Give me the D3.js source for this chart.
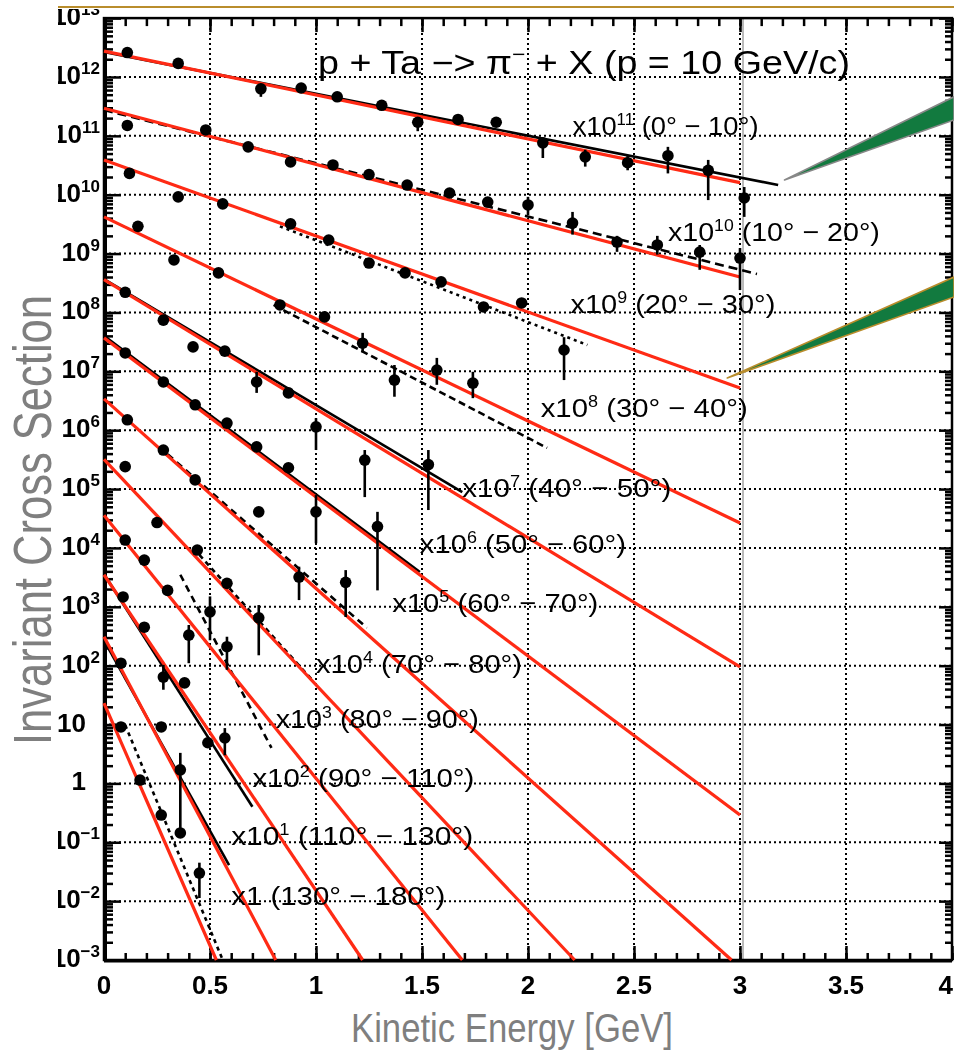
<!DOCTYPE html>
<html>
<head>
<meta charset="utf-8">
<script src="https://cdn.jsdelivr.net/npm/d3@7"></script>
<style>
  html, body { margin: 0; padding: 0; background: #fff; }
  svg { display: block; }
  text { font-family: "Liberation Sans", Arial, Helvetica, sans-serif; }
</style>
</head>
<body>
<svg id="chart" width="954" height="1052"></svg>
<script>
// ---- angular bins, scale factors and label text ----
const angleBins = ["0° − 10°", "10° − 20°", "20° − 30°", "30° − 40°", "40° − 50°", "50° − 60°",
                   "60° − 70°", "70° − 80°", "80° − 90°", "90° − 110°", "110° − 130°", "130° − 180°"];
const scalePowers = [11, 10, 9, 8, 7, 6, 5, 4, 3, 2, 1, 0];

// ---- measured points (scaled): [T (GeV), value, errLow, errHigh] ----
const pts00_10 = [[0.11,2.6e12],[0.35,1.7e12],[0.74,6.3e11,4.6e11,7.6e11],[0.93,6.5e11],[1.10,4.6e11],
  [1.31,3.3e11],[1.48,1.7e11,1.2e11,2.0e11],[1.67,1.9e11],[1.85,1.7e11],[2.07,7.6e10,4.2e10,9.2e10],
  [2.27,4.4e10,3.0e10,5.8e10],[2.47,3.5e10,2.6e10,4.6e10],[2.66,4.6e10,2.3e10,6.5e10],
  [2.85,2.6e10,8.1e9,3.9e10],[3.02,8.8e9,4.2e9,1.35e10]];
const pts10_20 = [[0.11,1.5e11],[0.48,1.26e11],[0.68,6.5e10],[0.88,3.6e10],[1.08,3.2e10],[1.25,2.2e10],
  [1.43,1.46e10],[1.63,1.07e10],[1.81,7.5e9],[2.00,6.7e9,4.5e9,9.2e9],[2.21,3.3e9,2.1e9,5.1e9],
  [2.42,1.57e9,1.07e9,2.0e9],[2.61,1.4e9,9.6e8,2.0e9],[2.81,1.06e9,5.3e8,1.4e9],[3.00,8.4e8,2.4e8,1.24e9]];
const pts20_30 = [[0.12,2.3e10],[0.35,9.2e9],[0.56,7.0e9],[0.88,3.2e9],[1.06,1.7e9],[1.25,6.9e8],
  [1.42,4.7e8],[1.59,3.3e8],[1.79,1.24e8],[1.97,1.45e8],[2.17,2.3e7,7.1e6,3.8e7]];
const pts30_40 = [[0.16,2.9e9],[0.33,7.8e8],[0.54,4.7e8],[0.83,1.34e8],[1.04,8.4e7],[1.22,3.0e7,2.1e7,4.5e7],
  [1.37,7.1e6,3.7e6,1.28e7],[1.57,1.05e7,5.9e6,1.69e7],[1.74,6.3e6,3.5e6,9.8e6]];
const pts40_50 = [[0.10,2.2e8],[0.28,7.4e7],[0.42,2.6e7],[0.57,2.2e7],[0.72,6.6e6,4.3e6,9.8e6],[0.87,4.3e6],
  [1.00,1.14e6,4.6e5,1.6e6],[1.23,3.1e5,7.3e4,4.6e5],[1.53,2.6e5,4.4e4,4.6e5]];
const pts50_60 = [[0.10,2.05e7],[0.28,6.6e6],[0.43,2.7e6],[0.58,1.32e6],[0.72,5.2e5],[0.87,2.3e5],
  [1.00,4.1e4,1.2e4,7.9e4],[1.29,2.3e4,1.9e3,4.1e4]];
const pts60_70 = [[0.11,1.5e6],[0.28,4.6e5],[0.43,1.43e5],[0.73,4.1e4],[0.92,3.2e3,1.3e3,4.8e3],
  [1.14,2.6e3,6.7e2,4.2e3]];
const pts70_80 = [[0.10,2.4e5],[0.25,2.7e4],[0.44,9.2e3],[0.50,8.2e2,2.7e2,1.5e3],[0.58,2.5e3],
  [0.73,6.5e2,1.5e2,1.07e3]];
const pts80_90 = [[0.10,1.36e4],[0.19,6.2e3],[0.30,1.9e3],[0.40,3.3e2,1.1e2,4.9e2],[0.58,2.1e2,85,3.1e2]];
const pts90_110 = [[0.09,1.47e3],[0.19,4.5e2],[0.28,64,39,103],[0.38,51],[0.49,4.9],[0.57,5.9,3.0,8.7]];
const pts110_130 = [[0.08,110],[0.27,9.1],[0.36,1.7,0.16,3.3]];
const pts130_180 = [[0.08,9.1],[0.17,1.14],[0.27,0.29],[0.36,0.144],[0.45,0.030,0.0113,0.045]];
const pointSets = [pts00_10, pts10_20, pts20_30, pts30_40, pts40_50, pts50_60,
                   pts60_70, pts70_80, pts80_90, pts90_110, pts110_130, pts130_180];

// ---- exponential fits (red): value at T = 0 and the end point of each line ----
const fitStart = [2.75e12, 2.95e11, 3.9e10, 4.2e9, 3.6e8, 3.7e7, 3.4e6, 3.2e5, 3.6e4, 3.5e3, 310, 23];
const fitEnd = [[3,1.6e10],[3,4.0e8],[3,5.2e6],[3,2.65e4],[3,95],[3,0.29],
                [2.96,1e-3],[2.22,1e-3],[1.69,1e-3],[1.22,1e-3],[0.81,1e-3],[0.53,1e-3]];

// ---- model curves (black): [T0, v0, T1, v1] and line style ----
const modelLines = [[0,2.66e12,3.18,1.46e10],[0,2.75e11,3.08,4.5e8],[0.83,2.9e9,2.28,2.8e7],
  [0.80,1.34e8,2.09,5.0e5],[0,3.7e8,1.69,8.9e4],[0,4.0e7,1.49,3.9e3],[0.30,3.9e5,1.24,440],
  [0.45,7.6e3,0.99,53],[0.36,3.5e3,0.79,4.0],[0,3.6e3,0.70,0.40],[0,270,0.59,0.041],[0.10,9.8,0.56,1e-3]];
const modelDash = [null, "9,5", "3,4", "7,4", null, null, "7,5", "5,4", "7,5", null, null, "4,4"];

// ---- axis ticks ----
const xTickValues = [0, 0.5, 1, 1.5, 2, 2.5, 3, 3.5, 4];
const xTickLabels = ["0", "0.5", "1", "1.5", "2", "2.5", "3", "3.5", "4"];
const yExponents = d3.range(-3, 14);

// ---- series label anchors (left end, baseline) in data units ----
const labelAnchor = [[2.21,1.04e11],[2.66,1.64e9],[2.20,9.8e7],[2.06,1.68e6],[1.69,7.3e4],[1.49,8.2e3],
  [1.36,820],[1.00,75],[0.81,8.7],[0.70,0.87],[0.60,0.09],[0.60,0.0086]];
const labelWidth = [186, 212, 205, 207, 209, 206, 206, 206, 203, 222, 242, 214];

const svg = d3.select("#chart");
const x = d3.scaleLinear().domain([0, 4]).range([104, 952]);
const y = d3.scaleLog().domain([1e-3, 1e13]).range([960, 18.1]);

const RED = "#ff2a12";

const defs = svg.append("defs");
defs.append("clipPath").attr("id", "pawClip")
  .append("rect").attr("x", 58).attr("y", 9).attr("width", 896).attr("height", 1043);
defs.append("filter").attr("id", "soft")
  .append("feGaussianBlur").attr("stdDeviation", 0.5);

const g = svg.append("g").attr("clip-path", "url(#pawClip)")
  .append("g").attr("filter", "url(#soft)");

// dotted grid
g.append("g").selectAll("line").data(xTickValues.slice(1, -1)).join("line")
  .attr("x1", d => x(d)).attr("x2", d => x(d))
  .attr("y1", y(1e13)).attr("y2", y(1e-3))
  .attr("stroke", "#000").attr("stroke-width", 2).attr("stroke-dasharray", "2,3");
g.append("g").selectAll("line").data(yExponents.slice(1, -1)).join("line")
  .attr("x1", x(0)).attr("x2", x(4))
  .attr("y1", d => y(Math.pow(10, d))).attr("y2", d => y(Math.pow(10, d)))
  .attr("stroke", "#000").attr("stroke-width", 2).attr("stroke-dasharray", "2,3");
// thin solid line beside the 3 GeV grid line
g.append("line").attr("x1", x(3) + 3).attr("x2", x(3) + 3)
  .attr("y1", y(1e13)).attr("y2", y(1e-3)).attr("stroke", "#777").attr("stroke-width", 1);

// axis ticks (all pointing into the frame)
const majorY = yExponents.map(e => Math.pow(10, e));
const minorY = [];
yExponents.slice(0, -1).forEach(e => { for (let m = 2; m <= 9; m++) minorY.push(m * Math.pow(10, e)); });
const minorX = d3.range(0, 41).map(i => i / 10);

function tickAxis(axis, transform) {
  const a = g.append("g").attr("transform", transform).call(axis);
  a.select(".domain").remove();
  a.selectAll("line").attr("stroke", "#000").attr("stroke-width", 2.5);
  a.selectAll("text").remove();
}
tickAxis(d3.axisLeft(y).tickValues(majorY).tickSize(-17).tickFormat(""), `translate(${x(0)},0)`);
tickAxis(d3.axisLeft(y).tickValues(minorY).tickSize(-9).tickFormat(""), `translate(${x(0)},0)`);
tickAxis(d3.axisRight(y).tickValues(majorY).tickSize(-13).tickFormat(""), `translate(${x(4)},0)`);
tickAxis(d3.axisRight(y).tickValues(minorY).tickSize(-7).tickFormat(""), `translate(${x(4)},0)`);
tickAxis(d3.axisTop(x).tickValues(minorX).tickSize(-8).tickFormat(""), `translate(0,${y(1e13)})`);
tickAxis(d3.axisTop(x).tickValues(xTickValues).tickSize(-14).tickFormat(""), `translate(0,${y(1e13)})`);
tickAxis(d3.axisBottom(x).tickValues(minorX).tickSize(-7).tickFormat(""), `translate(0,${y(1e-3)})`);
tickAxis(d3.axisBottom(x).tickValues(xTickValues).tickSize(-14).tickFormat(""), `translate(0,${y(1e-3)})`);

// frame
g.append("rect").attr("x", x(0)).attr("y", y(1e13))
  .attr("width", x(4) - x(0)).attr("height", y(1e-3) - y(1e13))
  .attr("fill", "none").attr("stroke", "#000").attr("stroke-width", 2.5);
g.append("line").attr("x1", x(0)).attr("x2", x(4)).attr("y1", y(1e-3) + 1).attr("y2", y(1e-3) + 1)
  .attr("stroke", "#000").attr("stroke-width", 3);
g.append("line").attr("x1", x(0) + 1).attr("x2", x(0) + 1).attr("y1", y(1e13)).attr("y2", y(1e-3))
  .attr("stroke", "#000").attr("stroke-width", 4);

// model curves
g.append("g").selectAll("line").data(modelLines).join("line")
  .attr("x1", d => x(d[0])).attr("y1", d => y(d[1]))
  .attr("x2", d => x(d[2])).attr("y2", d => y(d[3]))
  .attr("stroke", "#000").attr("stroke-width", 2.6)
  .attr("stroke-dasharray", (d, i) => modelDash[i]);

// red fits
g.append("g").selectAll("line").data(fitStart).join("line")
  .attr("x1", x(0)).attr("y1", d => y(d))
  .attr("x2", (d, i) => x(fitEnd[i][0])).attr("y2", (d, i) => y(fitEnd[i][1]))
  .attr("stroke", RED).attr("stroke-width", 3.2);

// data points with error bars
const allPts = pointSets.flat();
g.append("g").selectAll("line").data(allPts.filter(p => p.length > 2)).join("line")
  .attr("x1", d => x(d[0])).attr("x2", d => x(d[0]))
  .attr("y1", d => y(d[2])).attr("y2", d => y(d[3]))
  .attr("stroke", "#000").attr("stroke-width", 2.6);
g.append("g").selectAll("circle").data(allPts).join("circle")
  .attr("cx", d => x(d[0])).attr("cy", d => y(d[1])).attr("r", 5.8).attr("fill", "#000");

// series labels
const lab = g.append("g").attr("fill", "#000");
angleBins.forEach((a, i) => {
  const t = lab.append("text").attr("x", x(labelAnchor[i][0])).attr("y", y(labelAnchor[i][1]))
    .attr("font-size", 26).attr("textLength", labelWidth[i]).attr("lengthAdjust", "spacingAndGlyphs");
  if (scalePowers[i] === 0) {
    t.append("tspan").text(`x1 (${a})`);
  } else {
    t.append("tspan").text("x10");
    t.append("tspan").attr("dy", -10).attr("font-size", 16).text(scalePowers[i]);
    t.append("tspan").attr("dy", 10).text(` (${a})`);
  }
});

// reaction title
const title = g.append("text").attr("x", 318).attr("y", 74).attr("font-size", 33)
  .attr("textLength", 532).attr("lengthAdjust", "spacingAndGlyphs");
title.append("tspan").text("p + Ta −> π");
title.append("tspan").attr("dy", -13).attr("font-size", 20).text("−");
title.append("tspan").attr("dy", 13).text(" + X (p = 10 GeV/c)");

// tick labels
g.append("g").selectAll("text").data(xTickValues).join("text")
  .attr("x", (d, i) => i === xTickValues.length - 1 ? x(d) + 1 : x(d))
  .attr("y", y(1e-3) + 34)
  .attr("text-anchor", (d, i) => i === xTickValues.length - 1 ? "end" : "middle")
  .attr("font-size", 26).attr("font-weight", "bold")
  .text((d, i) => xTickLabels[i]);
yExponents.forEach(e => {
  const t = g.append("text").attr("y", y(Math.pow(10, e)) + 7)
    .attr("text-anchor", "end").attr("font-size", 26).attr("font-weight", "bold");
  if (e === 0 || e === 1) {
    t.attr("x", 86).text(e === 0 ? "1" : "10");
  } else {
    t.attr("x", 100);
    t.append("tspan").text("10");
    t.append("tspan").attr("dy", -10).attr("font-size", 17).text(e < 0 ? "−" + (-e) : e);
  }
});

// top rule
svg.append("line").attr("x1", 58).attr("x2", 954).attr("y1", 7).attr("y2", 7)
  .attr("stroke", "#b98d2c").attr("stroke-width", 2);

// callout wedges
const wedges = [
  { tip: [3.21, 1.78e10], top: 4.6e11, bottom: 1.86e11, edge: "#888888" },
  { tip: [2.94, 7.7e6], top: 4.0e8, bottom: 1.83e8, edge: "#b98d2c" }
];
const farX = x.range()[1] + 2;
wedges.forEach(w => {
  const tx = x(w.tip[0]), ty = y(w.tip[1]);
  svg.append("path")
    .attr("d", `M${tx},${ty}L${farX},${y(w.top)}L${farX},${y(w.bottom)}Z`)
    .attr("fill", "#127a3f").attr("stroke", w.edge).attr("stroke-width", 1.6)
    .attr("stroke-linejoin", "round");
});

// axis titles
svg.append("text").attr("x", 351).attr("y", 1042).attr("font-size", 40)
  .attr("fill", "#7f7f7f").attr("textLength", 322).attr("lengthAdjust", "spacingAndGlyphs")
  .text("Kinetic Energy [GeV]");
svg.append("text").attr("transform", "translate(51,745) rotate(-90)")
  .attr("font-size", 53).attr("fill", "#7f7f7f")
  .attr("textLength", 450).attr("lengthAdjust", "spacingAndGlyphs")
  .text("Invariant Cross Section");
</script>
</body>
</html>
